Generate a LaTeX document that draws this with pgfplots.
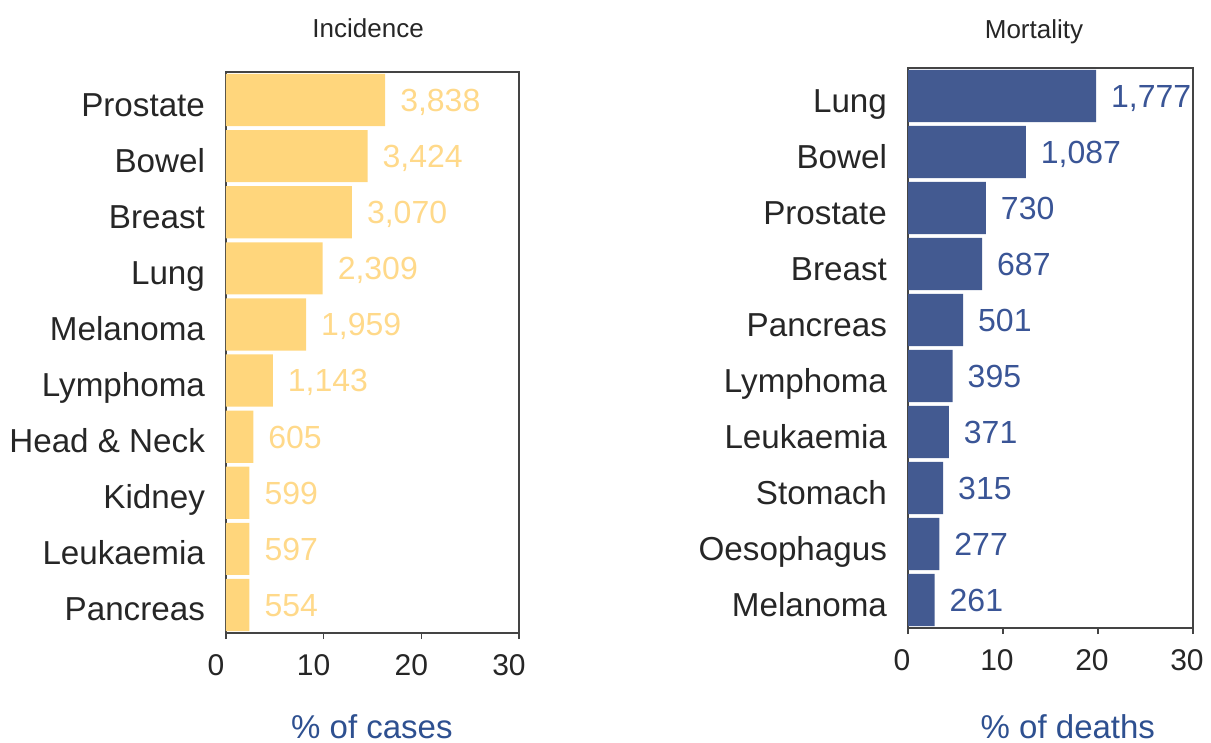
\documentclass[border=0pt]{standalone}
\usepackage{pgfplots}
\pgfplotsset{compat=1.18}
\usepackage{pgfplotstable}
\usepackage{fontspec}
\setmainfont{Liberation Sans}
\definecolor{incY}{HTML}{FFD67C}
\definecolor{incL}{HTML}{FFD98A}
\definecolor{morB}{HTML}{435A91}
\definecolor{morL}{HTML}{3A5596}
\definecolor{xlab}{HTML}{2E5090}
\definecolor{frame}{HTML}{444444}
\definecolor{txt}{HTML}{262626}

\pgfplotstableread{
x y lab
16.3 0 3,838
14.5 1 3,424
12.9 2 3,070
9.9 3 2,309
8.2 4 1,959
4.8 5 1,143
2.8 6 605
2.4 7 599
2.4 8 597
2.4 9 554
}\incidence

\pgfplotstableread{
x y lab
19.8 0 1,777
12.4 1 1,087
8.2 2 730
7.8 3 687
5.8 4 501
4.7 5 395
4.3 6 371
3.7 7 315
3.3 8 277
2.8 9 261
}\mortality

\pgfplotsset{
  common/.style={
    scale only axis,
    anchor=north west,
    xbar,
    xmin=0, xmax=30,
    ymin=-0.5, ymax=9.5,
    y dir=reverse,
    bar width=0.93,
    xtick={0,10,20,30},
    ytick={0,...,9},
    tick align=outside,
    major tick length=3pt,
    x tick style={frame, line width=0.8pt},
    y tick style={draw=none},
    axis x line*=bottom,
    axis line style={frame, line width=1pt},
    /pgf/number format/assume math mode=true,
    xticklabel style={font=\fontsize{15}{15}\selectfont, text=txt, yshift=-4pt},
    yticklabel style={font=\fontsize{16.6}{16.6}\selectfont, text=txt, anchor=base east, xshift=-4pt, yshift=-8pt},
    nodes near coords,
    point meta=explicit symbolic,
    nodes near coords style={anchor=base west, xshift=4pt, yshift=-5.7pt, font=\fontsize{16}{16}\selectfont},
    clip=false,
  }
}

\begin{document}
\begin{tikzpicture}
\useasboundingbox (0,0) rectangle (605.5pt,-371.5pt);

\begin{axis}[common,
  at={(113pt,-36pt)}, width=146.5pt, height=280.5pt,
  yticklabels={Prostate,Bowel,Breast,Lung,Melanoma,Lymphoma,Head \& Neck,Kidney,Leukaemia,Pancreas},
  xticklabel style={xshift=-5pt},
  nodes near coords style={text=incL},
  title={Incidence},
  title style={at={(rel axis cs:0.485,1)}, anchor=center, yshift=16pt, font=\fontsize{13}{13}\selectfont, text=txt},
  xlabel={\% of cases},
  xlabel style={at={(rel axis cs:0.498,0)}, anchor=center, yshift=-47pt, font=\fontsize{16.5}{16.5}\selectfont, text=xlab},
]
\draw[frame, line width=1pt] (rel axis cs:0,0) rectangle (rel axis cs:1,1);
\addplot[fill=incY, draw=none] table[x=x, y=y, meta=lab] {\incidence};
\end{axis}

\begin{axis}[common,
  at={(454pt,-34pt)}, width=142.5pt, height=280pt,
  yticklabels={Lung,Bowel,Prostate,Breast,Pancreas,Lymphoma,Leukaemia,Stomach,Oesophagus,Melanoma},
  xticklabel style={xshift=-3pt},
  nodes near coords style={text=morL},
  title={Mortality},
  title style={at={(rel axis cs:0.442,1)}, anchor=center, yshift=12pt, font=\fontsize{13}{13}\selectfont, text=txt},
  xlabel={\% of deaths},
  xlabel style={at={(rel axis cs:0.561,0)}, anchor=center, yshift=-49.5pt, font=\fontsize{16.5}{16.5}\selectfont, text=xlab},
]
\draw[frame, line width=1pt] (rel axis cs:0,0) rectangle (rel axis cs:1,1);
\addplot[fill=morB, draw=none] table[x=x, y=y, meta=lab] {\mortality};
\end{axis}
\end{tikzpicture}
\end{document}
